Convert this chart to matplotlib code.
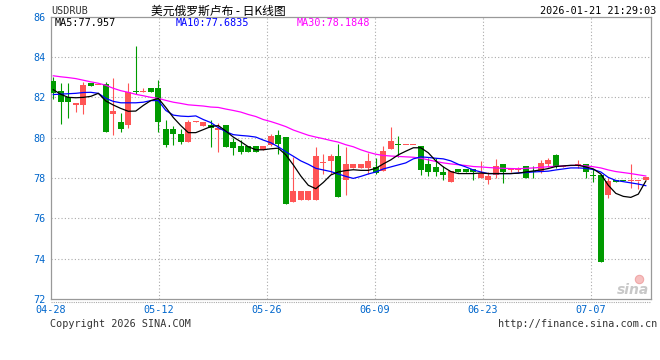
import matplotlib
matplotlib.use('Agg')
import matplotlib.pyplot as plt
from matplotlib.lines import Line2D
import numpy as np

# ---------------- data ----------------
date_labels = ['04-28', '05-12', '05-26', '06-09', '06-23', '07-07']
y_ticks = [72, 74, 76, 78, 80, 82, 84, 86]

opens = [82.83, 82.34, 82.04, 81.63, 81.63, 82.70, 82.60, 82.67, 81.18, 80.80,
         80.61, 82.34, 82.29, 82.45, 82.45, 80.41, 80.41, 80.16, 79.78, 80.79,
         80.57, 80.61, 80.36, 80.64, 79.78, 79.57, 79.57, 79.57, 79.37, 79.62,
         80.11, 80.03, 76.81, 76.90, 76.90, 76.90, 78.75, 78.84, 79.07, 77.92,
         78.51, 78.51, 78.51, 78.54, 78.33, 79.42, 79.66, 79.64, 79.64, 79.61,
         78.71, 78.54, 78.30, 77.80, 78.43, 78.43, 78.43, 78.02, 77.88, 78.17,
         78.68, 78.39, 78.39, 78.58, 78.31, 78.30, 78.68, 79.12, 78.57, 78.61,
         78.58, 78.68, 78.14, 78.13, 77.18, 77.88, 77.86, 77.87, 77.84, 77.88]
highs = [83.03, 82.70, 82.70, 81.71, 82.75, 82.70, 82.63, 82.76, 82.95, 81.22,
         82.72, 84.53, 82.45, 82.45, 82.87, 80.90, 80.56, 80.44, 80.90, 80.81,
         80.80, 80.90, 80.74, 80.64, 80.00, 79.90, 79.57, 79.57, 79.57, 80.20,
         80.39, 80.05, 79.04, 77.34, 77.34, 79.53, 79.21, 79.21, 79.70, 79.53,
         78.68, 78.68, 79.24, 78.97, 79.61, 80.52, 80.06, 79.66, 79.66, 79.61,
         79.00, 79.00, 78.60, 78.35, 78.43, 78.43, 78.43, 78.83, 78.30, 78.92,
         78.68, 78.50, 78.55, 78.58, 78.58, 78.90, 79.00, 79.20, 78.59, 78.61,
         78.90, 78.68, 78.46, 78.13, 78.00, 77.88, 77.86, 78.70, 77.86, 78.05]
lows = [81.93, 80.69, 80.99, 81.27, 81.15, 82.55, 82.60, 80.27, 80.15, 80.27,
        80.49, 82.17, 82.29, 82.26, 80.27, 79.55, 79.62, 79.70, 79.78, 80.79,
        80.57, 79.53, 79.29, 79.53, 79.16, 79.20, 79.29, 79.29, 79.37, 79.57,
        79.21, 76.70, 76.81, 76.90, 76.90, 76.90, 78.22, 78.20, 77.06, 77.14,
        78.51, 78.51, 78.22, 78.22, 78.33, 79.42, 79.04, 79.64, 79.64, 78.17,
        78.10, 78.10, 77.90, 77.80, 78.30, 78.30, 77.92, 78.02, 77.70, 78.00,
        77.75, 78.30, 78.30, 78.00, 78.00, 78.25, 78.55, 78.50, 78.57, 78.59,
        78.50, 78.00, 77.78, 73.84, 77.00, 77.80, 77.84, 77.52, 77.44, 77.88]
closes = [82.20, 81.76, 81.76, 81.71, 82.59, 82.55, 82.63, 80.27, 81.31, 80.41,
          82.29, 82.26, 82.31, 82.26, 80.77, 79.62, 80.16, 79.78, 80.80, 80.81,
          80.80, 80.49, 80.47, 79.53, 79.50, 79.29, 79.29, 79.29, 79.57, 80.06,
          79.67, 76.73, 77.34, 77.34, 77.34, 79.07, 78.78, 79.07, 77.06, 78.68,
          78.68, 78.68, 78.83, 78.24, 79.32, 79.82, 79.64, 79.66, 79.66, 78.38,
          78.30, 78.30, 78.17, 78.35, 78.30, 78.30, 78.30, 78.24, 78.08, 78.58,
          78.30, 78.41, 78.41, 78.00, 78.29, 78.74, 78.87, 78.54, 78.59, 78.59,
          78.68, 78.30, 78.12, 73.84, 77.85, 77.80, 77.84, 77.89, 77.86, 78.05]

ma5 = [82.38, 82.15, 82.00, 81.98, 82.00, 82.05, 82.20, 81.82, 81.62, 81.45,
       81.31, 81.32, 81.60, 81.84, 81.95, 81.50, 81.00, 80.60, 80.25, 80.25,
       80.40, 80.55, 80.60, 80.33, 80.03, 79.80, 79.55, 79.40, 79.40, 79.45,
       79.48, 79.15, 78.65, 78.10, 77.64, 77.47, 77.78, 78.15, 78.30, 78.37,
       78.41, 78.38, 78.38, 78.48, 78.70, 78.90, 79.15, 79.33, 79.50, 79.50,
       79.25, 78.85, 78.55, 78.32, 78.22, 78.22, 78.22, 78.25, 78.22, 78.22,
       78.22, 78.22, 78.24, 78.30, 78.35, 78.40, 78.47, 78.57, 78.60, 78.63,
       78.63, 78.55, 78.45, 78.20, 77.64, 77.24, 77.09, 77.04, 77.20, 77.85]
ma10 = [82.14, 82.16, 82.18, 82.20, 82.24, 82.25, 82.20, 81.95, 81.80, 81.73,
        81.73, 81.73, 81.76, 81.84, 81.84, 81.35, 81.12, 81.07, 81.05, 81.08,
        80.90, 80.75, 80.50, 80.30, 80.15, 80.11, 80.08, 80.03, 79.88, 79.75,
        79.55, 79.30, 79.08, 78.85, 78.68, 78.48, 78.40, 78.32, 78.20, 78.08,
        77.98, 78.08, 78.20, 78.30, 78.45, 78.55, 78.65, 78.75, 78.95, 79.05,
        79.02, 78.98, 78.95, 78.85, 78.68, 78.55, 78.40, 78.30, 78.22, 78.22,
        78.22, 78.22, 78.25, 78.27, 78.30, 78.32, 78.34, 78.40, 78.45, 78.50,
        78.50, 78.48, 78.42, 78.30, 78.03, 77.88, 77.82, 77.76, 77.70, 77.62]
ma30 = [83.07, 83.02, 82.98, 82.93, 82.85, 82.77, 82.70, 82.60, 82.45, 82.33,
        82.25, 82.15, 82.08, 82.00, 81.95, 81.85, 81.76, 81.70, 81.63, 81.60,
        81.57, 81.52, 81.50, 81.42, 81.35, 81.27, 81.15, 81.05, 80.90, 80.80,
        80.68, 80.55, 80.38, 80.25, 80.12, 80.03, 79.95, 79.86, 79.78, 79.65,
        79.55, 79.40, 79.28, 79.18, 79.12, 79.09, 79.07, 79.05, 79.03, 78.98,
        78.90, 78.82, 78.75, 78.70, 78.66, 78.62, 78.57, 78.55, 78.52, 78.50,
        78.48, 78.47, 78.46, 78.48, 78.50, 78.53, 78.56, 78.58, 78.60, 78.62,
        78.63, 78.60, 78.56, 78.50, 78.40, 78.32, 78.27, 78.22, 78.16, 78.10]

symbol = 'USDRUB'
title = '美元俄罗斯卢布 - 日K线图'
timestamp = '2026-01-21 21:29:03'
ma_labels = ['MA5:77.957', 'MA10:77.6835', 'MA30:78.1848']

# ---------------- drawing ----------------
UP = '#FF5555'
DOWN = '#009A00'
GRID = '#AAAAAA'
BORDER = '#999999'
TICKC = '#0066CC'
MONO = 'DejaVu Sans Mono'
CJK = ['Noto Sans CJK SC', 'DejaVu Sans']

W, H = 660, 360
fig = plt.figure(figsize=(W / 100, H / 100), dpi=100)
ax = fig.add_axes([51 / W, 1 - 299 / H, 600 / W, (299 - 16.7) / H])

o = np.array(opens); c = np.array(closes)
hi = np.array(highs); lo = np.array(lows)
n = len(o)
idx = np.arange(n)
cols = [UP if cc >= oo else DOWN for oo, cc in zip(o, c)]

# wicks
ax.vlines(idx, lo, hi, colors=cols, linewidth=0.8, zorder=3)
# bodies
bottoms = np.minimum(o, c)
heights = np.maximum(np.abs(c - o), 0.05)
ax.bar(idx, heights, bottom=bottoms, width=0.8, color=cols, linewidth=0, zorder=4)

# moving averages
ax.plot(idx, ma30, color='#FF00FF', linewidth=0.9, zorder=5)
ax.plot(idx, ma10, color='#0000FF', linewidth=0.9, zorder=6)
ax.plot(idx, ma5, color='#000000', linewidth=0.9, zorder=7)

xmin = -0.307
ax.set_xlim(xmin, xmin + n)
ax.set_ylim(72, 86)

xt = xmin + 14.4 * np.arange(len(date_labels))
ax.set_xticks(xt)
ax.set_xticklabels(date_labels, fontfamily=MONO, fontsize=7.3, color=TICKC)
ax.set_yticks(y_ticks)
ax.set_yticklabels([str(v) for v in y_ticks], fontfamily=MONO, fontsize=7.3, color=TICKC)
ax.tick_params(length=0, pad=4)

for yv in y_ticks[1:-1]:
    ax.axhline(yv, color=GRID, linewidth=0.8, linestyle=(0, (1, 2)), zorder=1)
for xv in xt[1:]:
    ax.axvline(xv, color=GRID, linewidth=0.8, linestyle=(0, (1, 2)), zorder=1)

for s in ax.spines.values():
    s.set_color(BORDER)
    s.set_linewidth(0.9)

# dotted line under x axis
ax.plot([0, 1], [-0.012, -0.012], transform=ax.transAxes, color=GRID,
        linewidth=0.8, linestyle=(0, (1, 1)), clip_on=False)

# legend text row inside plot
fig.text(55 / W, 1 - 23 / H, ma_labels[0], fontfamily=MONO, fontsize=7.3,
         color='#000000', va='center', ha='left')
fig.text(176 / W, 1 - 23 / H, ma_labels[1], fontfamily=MONO, fontsize=7.3,
         color='#0000FF', va='center', ha='left')
fig.text(297 / W, 1 - 23 / H, ma_labels[2], fontfamily=MONO, fontsize=7.3,
         color='#FF00FF', va='center', ha='left')

# header
fig.text(51 / W, 1 - 11 / H, symbol, fontfamily=MONO, fontsize=7.3,
         color='#333333', va='center', ha='left')
fig.text(218 / W, 1 - 11 / H, title, family=CJK, fontsize=8.5,
         color='#000000', va='center', ha='center')
fig.text(656 / W, 1 - 11 / H, timestamp, fontfamily=MONO, fontsize=7.3,
         color='#000000', va='center', ha='right')

# footer
fig.text(50 / W, 1 - 324 / H, 'Copyright 2026 SINA.COM', fontfamily=MONO,
         fontsize=7.3, color='#333333', va='center', ha='left')
fig.text(657 / W, 1 - 324 / H, 'http://finance.sina.com.cn', fontfamily=MONO,
         fontsize=7.3, color='#333333', va='center', ha='right')

# sina watermark (text + small pink "eye" mark drawn as a marker)
fig.text(649 / W, 1 - 290 / H, 'sina', fontfamily='DejaVu Sans', fontsize=10,
         fontweight='bold', fontstyle='italic', color='#C8C8C8', va='center', ha='right')
fig.add_artist(Line2D([639 / W], [1 - 279 / H], marker='o', markersize=6,
                      markerfacecolor='#F6C0C0', markeredgecolor='#F0A8A8',
                      markeredgewidth=0.8, linestyle='none',
                      transform=fig.transFigure))

fig.savefig('out.png', dpi=100)
